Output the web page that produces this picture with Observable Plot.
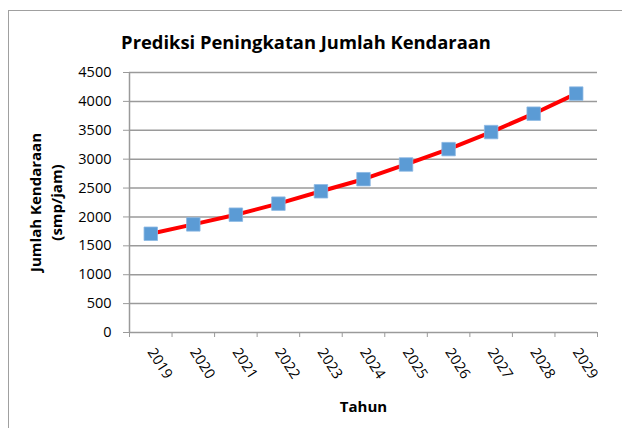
<!DOCTYPE html>
<html>
<head>
<meta charset="utf-8">
<script src="https://cdn.jsdelivr.net/npm/d3@7"></script>
<script src="https://cdn.jsdelivr.net/npm/@observablehq/plot@0.6"></script>
<style>
  html, body { margin: 0; padding: 0; background: #fff; }
  #wrap { position: relative; width: 622px; height: 428px; overflow: hidden; background: #fff; }
  #border { position: absolute; left: 8px; top: 10px; width: 700px; height: 500px; border-left: 1.5px solid #a0a0a0; border-top: 1.5px solid #a0a0a0; }
  #title { position: absolute; left: 0; width: 612px; top: 29px; text-align: center; font-family: "Open Sans", sans-serif; font-weight: bold; color: #000; white-space: nowrap; }
  #chart { position: absolute; left: 0; top: 0; }
</style>
</head>
<body>
<div id="wrap">
  <div id="border"></div>
  <div id="chart"></div>
  <div id="title">Prediksi Peningkatan Jumlah Kendaraan</div>
</div>
<script>
const titleText = "Prediksi Peningkatan Jumlah Kendaraan";
const yLabelLines = ["Jumlah Kendaraan", "(smp/jam)"];
const xLabel = "Tahun";
const years = [2019, 2020, 2021, 2022, 2023, 2024, 2025, 2026, 2027, 2028, 2029];
const vehicles = [1709, 1871, 2039, 2230, 2444, 2653, 2908, 3174, 3469, 3787, 4135];
const yTicks = [0, 500, 1000, 1500, 2000, 2500, 3000, 3500, 4000, 4500];

// fit title width
const titleEl = document.getElementById("title");
(function fitTitle() {
  const c = document.createElement("canvas").getContext("2d");
  c.font = "bold 20px 'Open Sans'";
  const w = c.measureText(titleText).width;
  titleEl.style.fontSize = (20 * 370 / w).toFixed(2) + "px";
})();

const data = years.map((y, i) => ({year: y, value: vehicles[i]}));
const boundaries = [...years.map(y => y - 0.5), years[years.length - 1] + 0.5];
const gridColor = "#9a9a9a";

const chart = Plot.plot({
  width: 622,
  height: 428,
  marginLeft: 129,
  marginRight: 25,
  marginTop: 72,
  marginBottom: 96,
  style: {fontFamily: "'Open Sans', sans-serif", fontSize: "14px", color: "#000", background: "transparent"},
  x: {type: "linear", domain: [boundaries[0], boundaries[boundaries.length - 1]]},
  y: {domain: [0, 4500]},
  marks: [
    Plot.ruleY(yTicks, {stroke: gridColor, strokeWidth: 1.5}),
    Plot.ruleX([boundaries[0]], {y1: 0, y2: 4500, stroke: gridColor, strokeWidth: 1.5}),
    Plot.axisY({ticks: yTicks, tickSize: 6, tickPadding: 12, stroke: gridColor, fill: "#000", label: null, fontSize: 14.5, tickFormat: d => String(d)}),
    Plot.axisX({ticks: boundaries, tickSize: 5, stroke: gridColor, tickFormat: () => "", label: null}),
    Plot.axisX({ticks: years, tickSize: 0, tickPadding: 17, tickRotate: 57, fill: "#000", fontSize: 14.5, label: null, tickFormat: d => String(d)}),
    Plot.line(data, {x: "year", y: "value", stroke: "#ff0000", strokeWidth: 4}),
    Plot.dot(data, {x: "year", y: "value", symbol: "square", r: 7.6, fill: "#5b9bd5", stroke: "#8ab8e3", strokeWidth: 0.8}),
    Plot.text([yLabelLines.join("\n")], {frameAnchor: "left", textAnchor: "middle", lineAnchor: "middle", dx: -85, rotate: -90, fontWeight: "bold", fontSize: 15, lineHeight: 1.4, fill: "#000"}),
    Plot.text([xLabel], {frameAnchor: "bottom", dy: 79, fontWeight: "bold", fontSize: 15, fill: "#000"})
  ]
});
document.getElementById("chart").appendChild(chart);
</script>
</body>
</html>
